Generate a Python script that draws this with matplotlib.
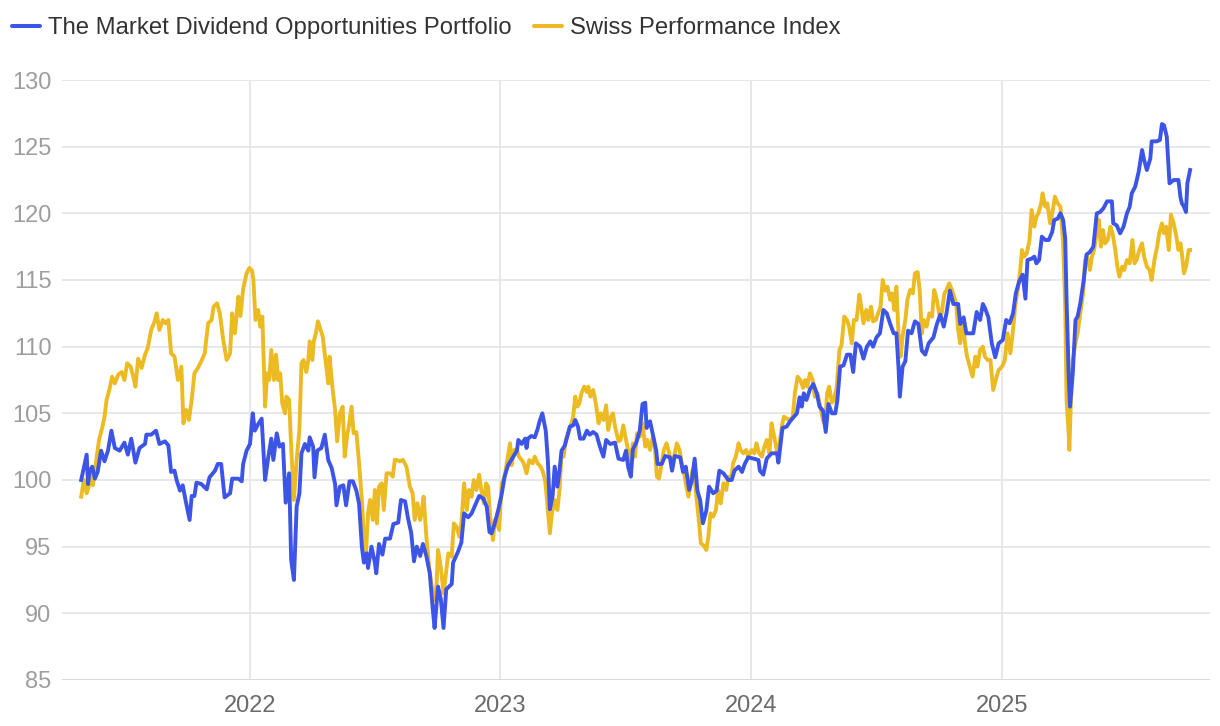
import matplotlib
matplotlib.use('Agg')
import matplotlib.pyplot as plt
import matplotlib.dates as mdates
from matplotlib.lines import Line2D
import pandas as pd

plt.rcParams['font.family'] = ['Liberation Sans', 'DejaVu Sans']

# series start date, values given as days after it
start = pd.Timestamp('2021-04-30')

mdo_label = 'The Market Dividend Opportunities Portfolio'
mdo_days = [0, 8, 10, 12, 16, 20, 24, 29, 34, 39, 44, 49, 56, 63, 68, 73, 79, 85, 93, 95,
            102, 109, 114, 122, 127, 131, 136, 139, 144, 148, 152, 158, 161, 165, 168, 175, 183, 187, 195, 199,
            204, 209, 217, 220, 229, 234, 236, 241, 246, 250, 253, 258, 263, 268, 272, 277, 280, 285, 289, 294,
            298, 303, 306, 310, 314, 318, 321, 326, 331, 333, 338, 340, 344, 350, 355, 360, 365, 370, 372, 377,
            382, 386, 391, 396, 401, 405, 409, 412, 416, 418, 423, 428, 430, 434, 439, 443, 450, 455, 462, 466,
            472, 476, 481, 485, 489, 494, 498, 503, 508, 512, 515, 520, 524, 528, 532, 540, 542, 549, 554, 558,
            564, 569, 574, 580, 586, 591, 595, 598, 603, 608, 613, 617, 622, 629, 635, 637, 642, 647, 649, 651,
            656, 661, 665, 668, 672, 677, 680, 683, 687, 690, 694, 697, 700, 705, 712, 717, 720, 724, 727, 732,
            737, 741, 746, 751, 756, 761, 765, 771, 778, 783, 790, 794, 797, 801, 804, 809, 814, 818, 822, 824,
            829, 834, 838, 840, 846, 851, 858, 861, 865, 873, 877, 881, 886, 890, 894, 898, 902, 906, 911, 915,
            921, 926, 930, 936, 943, 948, 952, 958, 963, 967, 972, 980, 987, 989, 994, 999, 1006, 1014, 1016, 1022,
            1028, 1033, 1038, 1043, 1047, 1050, 1053, 1057, 1062, 1067, 1072, 1076, 1081, 1085, 1089, 1094, 1099, 1102, 1106, 1111,
            1116, 1121, 1125, 1129, 1135, 1140, 1145, 1150, 1154, 1159, 1164, 1169, 1174, 1179, 1184, 1188, 1191, 1193, 1197, 1201,
            1205, 1210, 1215, 1220, 1225, 1230, 1235, 1242, 1247, 1252, 1257, 1261, 1266, 1271, 1278, 1281, 1286, 1290, 1295, 1300,
            1305, 1310, 1314, 1317, 1322, 1327, 1332, 1337, 1343, 1348, 1353, 1358, 1362, 1367, 1372, 1376, 1379, 1385, 1389, 1392,
            1396, 1400, 1405, 1410, 1415, 1418, 1423, 1427, 1431, 1434, 1436, 1439, 1441, 1445, 1449, 1452, 1456, 1461, 1465, 1470,
            1475, 1480, 1485, 1490, 1495, 1502, 1504, 1509, 1514, 1519, 1524, 1528, 1531, 1536, 1541, 1546, 1549, 1553, 1558, 1560,
            1567, 1572, 1575, 1578, 1582, 1586, 1592, 1599, 1602, 1604, 1607, 1610, 1612, 1616]
mdo_vals = [100.0, 101.9, 99.7, 100.6, 101.0, 100.1, 100.6, 102.2, 101.4, 102.2, 103.7, 102.4, 102.2, 102.8, 101.9, 103.1, 101.3, 102.4, 102.7, 103.4,
            103.4, 103.7, 102.7, 102.9, 102.6, 100.6, 100.7, 100.0, 99.2, 99.6, 98.5, 97.0, 98.8, 98.8, 99.8, 99.7, 99.3, 100.2, 100.7, 101.2,
            101.2, 98.7, 99.0, 100.1, 100.1, 99.9, 101.2, 102.2, 102.7, 105.0, 103.7, 104.2, 104.6, 100.0, 101.5, 103.1, 101.5, 103.5, 102.5, 102.7,
            98.3, 100.5, 94.0, 92.5, 98.0, 99.0, 102.0, 102.7, 102.2, 103.2, 102.5, 100.2, 102.2, 102.4, 103.4, 101.5, 100.9, 99.7, 98.1, 99.5,
            99.6, 98.1, 99.9, 99.9, 99.2, 98.2, 95.0, 93.8, 94.5, 93.4, 95.0, 93.8, 93.0, 95.2, 94.4, 95.6, 95.6, 96.7, 96.8, 98.5,
            98.4, 97.2, 96.0, 93.9, 95.0, 94.3, 95.2, 94.3, 93.0, 90.5, 88.9, 92.0, 91.1, 88.9, 91.8, 92.2, 93.8, 94.6, 95.3, 97.5,
            97.2, 97.5, 98.1, 98.8, 98.6, 98.0, 96.1, 96.0, 96.8, 97.8, 99.0, 100.25, 101.1, 101.7, 102.2, 103.0, 102.7, 103.1, 102.4, 103.1,
            103.3, 103.2, 103.8, 104.4, 105.0, 103.7, 101.5, 97.8, 98.8, 101.0, 99.5, 100.7, 102.2, 102.6, 104.0, 104.1, 104.5, 104.0, 103.1, 103.1,
            103.7, 103.4, 103.6, 103.4, 102.5, 101.75, 103.0, 102.7, 102.8, 101.6, 101.5, 102.2, 101.0, 100.25, 102.3, 102.8, 103.7, 105.7, 105.8, 103.9,
            104.4, 103.2, 102.2, 101.2, 101.2, 101.8, 101.7, 100.7, 101.8, 101.7, 100.6, 101.0, 99.25, 100.0, 101.6, 99.2, 98.5, 96.75, 97.7, 99.5,
            99.0, 99.2, 100.7, 100.5, 100.0, 100.0, 100.7, 101.0, 100.6, 101.2, 101.7, 101.6, 101.5, 100.7, 100.4, 101.6, 102.0, 102.0, 101.3, 103.9,
            104.0, 104.4, 104.7, 105.0, 106.2, 105.5, 106.5, 106.0, 106.8, 107.2, 106.5, 105.5, 105.2, 103.6, 105.7, 105.0, 105.0, 106.0, 108.5, 108.6,
            109.4, 109.4, 108.1, 110.25, 110.0, 109.1, 110.0, 110.4, 110.0, 110.7, 111.0, 112.75, 112.5, 111.7, 111.0, 111.0, 108.5, 106.25, 108.5, 108.9,
            111.2, 111.0, 111.9, 111.7, 109.7, 109.4, 110.25, 110.7, 111.7, 112.4, 111.5, 112.5, 114.2, 113.2, 113.2, 111.7, 112.2, 111.0, 111.0, 111.0,
            112.6, 112.0, 113.2, 112.9, 112.2, 110.25, 109.2, 110.25, 110.5, 112.0, 111.75, 112.5, 114.0, 114.9, 115.4, 113.6, 116.5, 116.6, 116.75, 116.25,
            116.5, 118.25, 118.0, 118.0, 118.6, 119.5, 119.6, 120.0, 119.5, 118.1, 113.5, 108.0, 105.5, 108.0, 112.0, 112.25, 113.25, 115.0, 116.9, 117.1,
            117.5, 120.0, 120.1, 120.4, 120.9, 120.9, 119.25, 119.1, 118.5, 119.0, 120.0, 120.5, 121.5, 122.0, 123.1, 124.75, 124.0, 123.25, 124.1, 125.4,
            125.4, 125.5, 126.7, 126.6, 125.75, 122.25, 122.5, 122.5, 121.2, 120.75, 120.5, 120.1, 122.25, 123.25]

spi_label = 'Swiss Performance Index'
spi_days = [0, 4, 8, 11, 15, 17, 22, 26, 31, 34, 37, 41, 45, 49, 54, 59, 63, 67, 72, 76,
            79, 83, 88, 93, 97, 102, 107, 110, 114, 119, 123, 127, 131, 136, 141, 146, 149, 153, 157, 161,
            165, 170, 175, 180, 185, 190, 193, 198, 202, 207, 212, 217, 220, 224, 229, 232, 236, 241, 245, 249,
            251, 254, 258, 261, 264, 268, 271, 274, 277, 281, 284, 287, 290, 293, 297, 299, 303, 306, 310, 314,
            318, 321, 324, 328, 331, 333, 337, 339, 342, 345, 349, 352, 356, 360, 362, 366, 370, 373, 377, 381,
            384, 388, 390, 394, 397, 401, 405, 409, 412, 415, 418, 421, 425, 428, 431, 434, 438, 441, 445, 450,
            454, 457, 460, 464, 469, 474, 479, 483, 486, 490, 494, 496, 499, 503, 507, 512, 515, 518, 520, 524,
            528, 531, 535, 540, 543, 547, 551, 554, 558, 562, 565, 569, 572, 576, 580, 583, 587, 590, 593, 596,
            600, 603, 606, 609, 613, 617, 621, 625, 627, 631, 635, 638, 642, 645, 649, 653, 658, 661, 665, 668,
            672, 676, 678, 681, 683, 686, 690, 694, 697, 700, 703, 706, 710, 713, 717, 720, 723, 726, 729, 733,
            737, 739, 742, 746, 750, 754, 757, 761, 765, 768, 772, 775, 778, 783, 786, 790, 794, 797, 801, 804,
            807, 810, 814, 818, 822, 825, 829, 833, 836, 839, 842, 846, 849, 853, 857, 861, 864, 868, 872, 875,
            878, 881, 885, 888, 891, 894, 897, 901, 903, 907, 911, 914, 917, 921, 925, 928, 932, 936, 940, 943,
            947, 950, 954, 958, 961, 965, 969, 972, 977, 981, 984, 988, 992, 995, 999, 1003, 1006, 1010, 1014, 1017,
            1021, 1024, 1028, 1033, 1037, 1040, 1044, 1048, 1052, 1055, 1058, 1062, 1066, 1069, 1073, 1077, 1081, 1084, 1087, 1090,
            1094, 1097, 1101, 1105, 1108, 1112, 1116, 1119, 1123, 1126, 1130, 1134, 1136, 1140, 1144, 1147, 1151, 1154, 1158, 1162,
            1165, 1168, 1172, 1175, 1179, 1182, 1185, 1188, 1191, 1194, 1197, 1201, 1204, 1208, 1212, 1215, 1219, 1222, 1225, 1228,
            1232, 1236, 1240, 1243, 1247, 1251, 1254, 1258, 1261, 1265, 1269, 1272, 1275, 1278, 1281, 1285, 1288, 1291, 1295, 1299,
            1303, 1306, 1310, 1314, 1317, 1321, 1325, 1329, 1334, 1337, 1342, 1346, 1350, 1354, 1358, 1361, 1364, 1368, 1371, 1374,
            1378, 1382, 1385, 1389, 1392, 1395, 1399, 1401, 1405, 1408, 1412, 1416, 1419, 1423, 1427, 1431, 1434, 1436, 1439, 1440,
            1442, 1445, 1449, 1452, 1456, 1460, 1463, 1466, 1470, 1473, 1476, 1480, 1483, 1486, 1489, 1492, 1496, 1500, 1503, 1507,
            1510, 1513, 1517, 1520, 1524, 1528, 1532, 1535, 1538, 1542, 1546, 1549, 1553, 1557, 1560, 1564, 1568, 1571, 1575, 1578,
            1581, 1585, 1588, 1592, 1596, 1599, 1602, 1604, 1607, 1610, 1614, 1616]
spi_vals = [98.75, 100.0, 99.0, 99.5, 100.5, 99.6, 101.5, 103.0, 104.0, 104.75, 106.0, 106.75, 107.75, 107.25, 107.9, 108.1, 107.5, 108.75, 108.5, 107.75,
            107.0, 109.1, 108.4, 109.4, 109.9, 111.25, 111.9, 112.5, 111.25, 112.0, 111.75, 112.0, 109.5, 109.25, 107.5, 108.5, 104.25, 105.25, 104.5, 106.0,
            108.0, 108.4, 108.9, 109.5, 111.75, 112.0, 113.0, 113.25, 112.5, 110.5, 109.0, 109.5, 112.5, 111.0, 113.75, 112.3, 114.3, 115.5, 115.9, 115.7,
            115.0, 112.0, 112.75, 111.5, 112.25, 105.5, 108.0, 107.5, 109.75, 107.5, 109.4, 107.5, 108.0, 105.75, 105.0, 106.25, 106.0, 102.5, 98.5, 101.5,
            103.75, 108.75, 109.0, 108.1, 109.0, 110.4, 109.0, 110.4, 111.0, 111.9, 111.25, 110.75, 109.0, 107.25, 109.25, 107.0, 105.25, 102.9, 105.0, 105.5,
            101.75, 103.5, 104.0, 105.5, 103.5, 103.6, 101.25, 98.5, 95.75, 94.5, 97.5, 98.5, 97.0, 99.25, 96.75, 99.5, 99.75, 97.75, 100.5, 100.5,
            100.25, 101.5, 101.5, 101.4, 101.5, 101.0, 99.5, 99.0, 97.0, 98.25, 97.0, 97.5, 98.75, 95.75, 93.5, 91.6, 91.0, 92.25, 94.75, 93.5,
            91.5, 92.75, 94.5, 94.25, 96.75, 96.5, 95.75, 96.75, 99.75, 97.75, 99.25, 98.75, 100.0, 99.25, 100.4, 99.25, 98.25, 99.75, 99.5, 97.25,
            95.5, 97.0, 96.75, 96.25, 99.75, 100.25, 101.5, 102.75, 101.1, 102.25, 102.25, 101.75, 101.5, 101.25, 100.5, 101.5, 101.25, 101.75, 101.25, 101.1,
            100.75, 100.0, 99.0, 97.25, 96.0, 97.5, 98.5, 97.75, 99.25, 102.0, 101.75, 103.0, 103.5, 104.0, 104.75, 106.25, 105.5, 105.75, 106.5, 107.0,
            106.6, 107.0, 106.25, 106.75, 105.75, 104.25, 105.0, 104.5, 105.6, 103.75, 104.75, 105.0, 104.0, 102.9, 103.0, 104.1, 103.0, 102.25, 101.25, 102.75,
            101.75, 103.5, 103.25, 104.25, 102.5, 103.0, 102.25, 103.25, 102.5, 100.25, 100.1, 101.25, 102.25, 102.75, 102.0, 101.0, 101.75, 102.75, 102.25, 101.25,
            100.75, 99.75, 98.75, 99.75, 100.75, 100.0, 98.5, 96.5, 95.25, 95.1, 94.75, 95.75, 97.5, 97.25, 97.75, 99.25, 98.25, 99.75, 99.25, 100.25,
            100.0, 101.25, 101.75, 102.75, 102.25, 102.0, 102.25, 101.75, 102.25, 102.0, 102.75, 102.0, 101.75, 102.4, 103.0, 102.0, 104.25, 103.25, 102.1, 102.5,
            104.0, 104.75, 104.6, 104.5, 104.75, 106.5, 107.75, 107.5, 106.9, 107.5, 107.0, 108.0, 107.5, 106.25, 106.5, 105.5, 104.5, 104.1, 106.5, 107.0,
            105.8, 106.0, 107.0, 109.75, 110.1, 112.25, 112.0, 111.5, 110.25, 112.0, 112.0, 113.9, 113.25, 111.75, 112.75, 112.0, 113.0, 111.9, 112.0, 112.6,
            113.0, 115.0, 114.2, 114.5, 113.5, 114.0, 112.75, 114.5, 111.0, 109.25, 110.75, 112.0, 113.5, 114.25, 114.0, 115.5, 115.6, 114.2, 111.0, 112.0,
            111.5, 112.5, 112.25, 114.25, 113.5, 112.25, 112.5, 114.0, 114.25, 114.75, 114.25, 113.75, 113.25, 111.25, 110.25, 112.0, 110.25, 109.25, 108.5, 107.75,
            109.25, 108.5, 109.75, 110.0, 109.25, 109.0, 109.0, 106.75, 107.75, 108.25, 108.5, 109.0, 111.0, 109.5, 111.25, 113.0, 114.0, 115.5, 117.25, 116.75,
            117.0, 118.0, 120.25, 119.0, 119.75, 120.0, 120.75, 121.5, 120.5, 120.75, 119.25, 120.25, 121.25, 120.75, 120.5, 117.75, 113.0, 106.0, 103.5, 102.25,
            105.5, 109.0, 110.25, 111.0, 112.5, 114.0, 116.5, 116.75, 115.75, 116.75, 117.25, 118.5, 119.5, 117.5, 118.75, 117.75, 118.0, 119.0, 118.5, 117.25,
            116.0, 115.25, 116.0, 115.75, 116.5, 116.25, 118.0, 116.25, 116.5, 117.25, 117.75, 116.75, 116.0, 115.75, 115.0, 116.5, 117.5, 118.5, 119.25, 118.5,
            119.0, 117.25, 119.9, 119.25, 118.25, 117.25, 117.75, 117.0, 115.5, 116.0, 117.25, 117.25]

year_ticks = ['2022-01-01', '2023-01-01', '2024-01-01', '2025-01-01']
y_ticks = [85, 90, 95, 100, 105, 110, 115, 120, 125, 130]

blue = '#3c55e6'
gold = '#ecbb24'
grid_col = '#e6e6e6'

mdo_dates = start + pd.to_timedelta(mdo_days, unit='D')
spi_dates = start + pd.to_timedelta(spi_days, unit='D')

fig = plt.figure(figsize=(12.2, 7.26), dpi=100)
ax = fig.add_axes([0.0508, 0.0634, 0.9410, 0.8264])

ax.plot(spi_dates, spi_vals, color=gold, lw=2.8, solid_joinstyle='round', zorder=3)
ax.plot(mdo_dates, mdo_vals, color=blue, lw=2.8, solid_joinstyle='round', zorder=4)

ax.set_ylim(85, 130)
ax.set_yticks(y_ticks)
ax.set_xlim(start - pd.Timedelta(days=28), start + pd.Timedelta(days=1645))
ax.set_xticks(pd.to_datetime(year_ticks))
ax.xaxis.set_major_formatter(mdates.DateFormatter('%Y'))

ax.grid(True, color=grid_col, lw=1.3)
ax.set_axisbelow(True)
for s in ax.spines.values():
    s.set_visible(False)
ax.axhline(85, color='#d8d8d8', lw=2, zorder=1)
ax.tick_params(axis='both', length=0)
ax.tick_params(axis='y', labelsize=17, labelcolor='#9e9e9e', pad=7.5)
ax.tick_params(axis='x', labelsize=17, labelcolor='#6b6b6b', pad=11)

handles = [Line2D([], [], color=blue, lw=2.9, solid_capstyle='round'),
           Line2D([], [], color=gold, lw=2.9, solid_capstyle='round')]
fig.legend(handles, [mdo_label, spi_label], loc='center left',
           bbox_to_anchor=(12 / 1220, 1 - 28 / 726), ncol=2, frameon=False,
           fontsize=17.2, handlelength=1.17, handletextpad=0.33, columnspacing=0.95,
           borderpad=0, borderaxespad=0, labelcolor='#333333')

fig.savefig('out.png', dpi=100)
